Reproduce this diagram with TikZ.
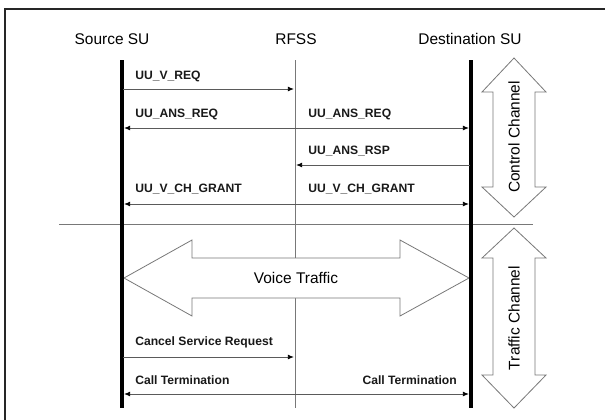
\documentclass[tikz,border=0pt]{standalone}
\usepackage{fontspec}
\setmainfont{Liberation Sans}
\usetikzlibrary{arrows.meta}
\definecolor{lgrey}{RGB}{120,120,120}
\definecolor{agrey}{RGB}{90,90,90}
\tikzset{
  life/.style={line width=2.3pt,black},
  rfss/.style={line width=0.6pt,lgrey},
  tipk/.tip={Latex[length=4.5pt,width=3.6pt,color=black]},
  msg/.style={line width=0.6pt,agrey,-tipk,shorten >=0.8pt},
  dmsg/.style={line width=0.6pt,agrey,tipk-tipk,shorten >=0.8pt,shorten <=0.8pt},
  lbl/.style={font=\fontsize{9.1pt}{11pt}\selectfont\bfseries,inner sep=0pt,text=black!90},
  big/.style={font=\fontsize{11.6pt}{13pt}\selectfont,inner sep=0pt},
  fatarrow/.style={draw=lgrey,line width=0.6pt,fill=white,line join=miter},
}
\begin{document}
\begin{tikzpicture}[x=0.75pt,y=-0.75pt]
\useasboundingbox (0,0) rectangle (605,419);
% frame
\draw[line width=1.9pt,black!85] (5,450) -- (5,9) -- (640,9);
% titles
\node[big] (tsrc) at (112,39) {Source SU};
\node[big] (trfss) at (296,39) {RFSS};
\node[big] (tdst) at (470,39) {Destination SU};
% lifeline ends
\coordinate (s0) at (122,60); \coordinate (s1) at (122,408);
\coordinate (r0) at (295,60); \coordinate (r1) at (295,408);
\coordinate (d0) at (471,60); \coordinate (d1) at (471,408);
\draw[rfss] (r0) -- (r1);
% separator
\coordinate (sepL) at (59,224); \coordinate (sepR) at (533,224);
\draw[line width=0.6pt,lgrey] (sepL) -- (sepR);
% voice traffic arrow
\draw[fatarrow] (124,278) -- (192,240) -- (192,258) -- (400,258) -- (400,240) -- (469,278)
  -- (400,316) -- (400,298) -- (192,298) -- (192,316) -- cycle;
\node[big] (voice) at (296,278) {Voice Traffic};
\draw[life] (s0) -- (s1);
\draw[life] (d0) -- (d1);
% message points
\coordinate (m1s) at (123,89);  \coordinate (m1r) at (295,89);
\coordinate (m2s) at (123,128); \coordinate (m2d) at (470,128);
\coordinate (m3d) at (470,165); \coordinate (m3r) at (295,165);
\coordinate (m4s) at (123,204); \coordinate (m4d) at (470,204);
\coordinate (m5s) at (123,357); \coordinate (m5r) at (295,357);
\coordinate (m6s) at (123,394); \coordinate (m6d) at (470,394);
\draw[msg] (m1s) -- (m1r);
\draw[dmsg] (m2s) -- (m2d);
\draw[msg] (m3d) -- (m3r);
\draw[dmsg] (m4s) -- (m4d);
\draw[msg] (m5s) -- (m5r);
\draw[dmsg] (m6s) -- (m6d);
% labels
\node[lbl,anchor=west] (l1) at (135,76) {UU\_V\_REQ};
\node[lbl,anchor=west] (l2) at (135,114) {UU\_ANS\_REQ};
\node[lbl,anchor=west] (l3) at (308,114) {UU\_ANS\_REQ};
\node[lbl,anchor=west] (l4) at (308,151) {UU\_ANS\_RSP};
\node[lbl,anchor=west] (l5) at (135,189) {UU\_V\_CH\_GRANT};
\node[lbl,anchor=west] (l6) at (308,189) {UU\_V\_CH\_GRANT};
\node[lbl,anchor=west] (l7) at (135,342) {Cancel Service Request};
\node[lbl,anchor=west] (l8) at (135,380) {Call Termination};
\node[lbl,anchor=east] (l9) at (457,380) {Call Termination};
% channel arrows
\draw[fatarrow] (514,58) -- (546,92) -- (535,92) -- (535,187) -- (546,187) -- (514,217)
  -- (482,187) -- (493,187) -- (493,92) -- (482,92) -- cycle;
\node[big,rotate=90] (cc) at (514,137) {Control Channel};
\draw[fatarrow] (514,228) -- (546,258) -- (535,258) -- (535,375) -- (546,375) -- (514,408)
  -- (482,375) -- (493,375) -- (493,258) -- (482,258) -- cycle;
\node[big,rotate=90] (tc) at (514,318) {Traffic Channel};
\end{tikzpicture}
\end{document}
